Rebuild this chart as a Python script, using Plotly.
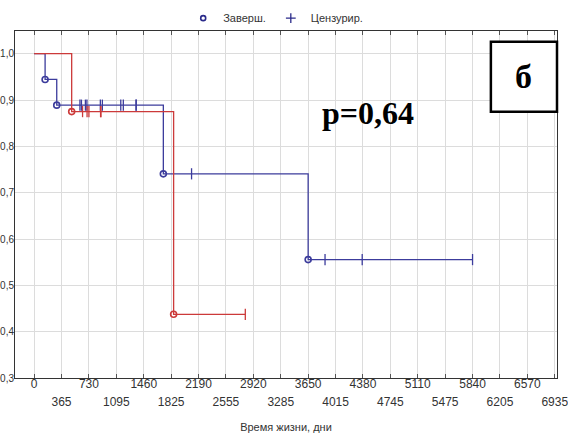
import plotly.graph_objects as go

# ---- data ----
# group 1 (blue): Kaplan-Meier step points (time, survival)
blue_t = [0, 146, 301, 1721, 3650, 5840]
blue_s = [1.0, 0.9444, 0.8889, 0.7407, 0.5556, 0.5556]
blue_event_t = [146, 301, 1721, 3650]
blue_cens_t = [610, 630, 683, 703, 882, 909, 1154, 1188, 1357, 1360, 2097, 3875, 4370, 5840]

# group 2 (red)
red_t = [0, 500, 1858, 2813]
red_s = [1.0, 0.875, 0.4375, 0.4375]
red_event_t = [500, 1858]
red_cens_t = [645, 705, 730, 885, 890, 2813]

x_even = [0, 730, 1460, 2190, 2920, 3650, 4380, 5110, 5840, 6570]
x_odd = [365, 1095, 1825, 2555, 3285, 4015, 4745, 5475, 6205, 6935]
y_ticks = [0.3, 0.4, 0.5, 0.6, 0.7, 0.8, 0.9, 1.0]
p_text = "p=0,64"
panel_label = "б"

BLUE = "#3c3c9c"
RED = "#cc3a3a"


def surv_at(ts, ss, t):
    val = ss[0]
    for ti, si in zip(ts, ss):
        if ti <= t:
            val = si
    return val


fig = go.Figure()

for ts, ss, ev, ce, col in [(blue_t, blue_s, blue_event_t, blue_cens_t, BLUE),
                             (red_t, red_s, red_event_t, red_cens_t, RED)]:
    fig.add_trace(go.Scatter(x=ts, y=ss, mode="lines", line=dict(color=col, width=1.3, shape="hv"),
                             showlegend=False, hoverinfo="skip"))
    fig.add_trace(go.Scatter(x=ev, y=[surv_at(ts, ss, t) for t in ev], mode="markers",
                             marker=dict(symbol="circle-open", size=6, color=col, line=dict(width=1.6, color=col)),
                             showlegend=False))
    fig.add_trace(go.Scatter(x=ce, y=[surv_at(ts, ss, t) for t in ce], mode="markers",
                             marker=dict(symbol="line-ns", size=8, color=col, line=dict(width=1.3, color=col)),
                             showlegend=False))

# invisible trace so the second-row tick axis is drawn
fig.add_trace(go.Scatter(x=[x_odd[0]], y=[blue_s[0]], xaxis="x2", mode="markers",
                         marker=dict(opacity=0), showlegend=False, hoverinfo="skip"))

# legend entries
fig.add_trace(go.Scatter(x=[None], y=[None], mode="markers", name="Заверш.",
                         marker=dict(symbol="circle-open", size=5, color="#2a2a8a", line=dict(width=1.6, color="#2a2a8a"))))
fig.add_trace(go.Scatter(x=[None], y=[None], mode="markers", name="Цензурир.",
                         marker=dict(symbol="cross-thin", size=7, color="#2a2a8a", line=dict(width=1.3, color="#2a2a8a"))))

xr = [-255, 6965]
all_x = sorted(x_even + x_odd)
fig.update_layout(
    width=568, height=434,
    margin=dict(l=15, r=11, t=31, b=56, autoexpand=False),
    paper_bgcolor="white", plot_bgcolor="white",
    font=dict(family="Liberation Sans, Arial, sans-serif", size=12, color="#333333"),
    showlegend=True,
    legend=dict(orientation="h", x=0.481, xanchor="center", y=1.037, yanchor="middle",
                font=dict(size=11, color="#333333"), itemwidth=30, bgcolor="rgba(0,0,0,0)",
                tracegroupgap=0),
    xaxis=dict(range=xr, tickvals=all_x, automargin=False,
               ticktext=[str(v) if v in x_even else "" for v in all_x],
               showgrid=True, gridcolor="#dcdcdc", gridwidth=1, zeroline=False,
               showline=True, linecolor="#333333", linewidth=1, mirror="allticks",
               ticks="inside", ticklen=4, tickcolor="#555555", ticklabelstandoff=-5,
               tickfont=dict(size=12, color="#333333")),
    xaxis2=dict(range=xr, overlaying="x", anchor="y", side="bottom", tickvals=x_odd,
                automargin=False, ticklabeloverflow="allow",
                ticktext=[str(v) for v in x_odd], showgrid=False, zeroline=False,
                showline=False, ticks="", ticklabelstandoff=15,
                tickfont=dict(size=12, color="#333333"),
                title=dict(text="Время жизни, дни", font=dict(size=11, color="#333333"), standoff=15)),
    yaxis=dict(range=[0.3, 1.049], tickvals=y_ticks, automargin=False,
               ticktext=[f"{v:.1f}".replace(".", ",") for v in y_ticks],
               showgrid=True, gridcolor="#dcdcdc", gridwidth=1, zeroline=False,
               showline=True, linecolor="#333333", linewidth=1, mirror=True,
               ticks="", ticklabelstandoff=-2, tickfont=dict(size=10, color="#333333")),
)

fig.add_annotation(text=f"<b>{p_text}</b>", xref="paper", yref="paper", x=0.652, y=0.764,
                   xanchor="center", yanchor="middle", showarrow=False,
                   font=dict(family="Liberation Serif, Times New Roman, serif", size=32, color="black"))
fig.add_shape(type="rect", xref="paper", yref="paper", x0=0.878, x1=1.0, y0=0.7675, y1=0.969,
              line=dict(color="black", width=2.5), fillcolor="white")
fig.add_annotation(text=f"<b>{panel_label}</b>", xref="paper", yref="paper", x=0.939, y=0.868,
                   xanchor="center", yanchor="middle", showarrow=False,
                   font=dict(family="Liberation Serif, Times New Roman, serif", size=34, color="black"))

fig.write_html("out.html", config={"displayModeBar": False},
               post_script="document.body.style.margin='0';document.body.style.overflow='hidden';")
